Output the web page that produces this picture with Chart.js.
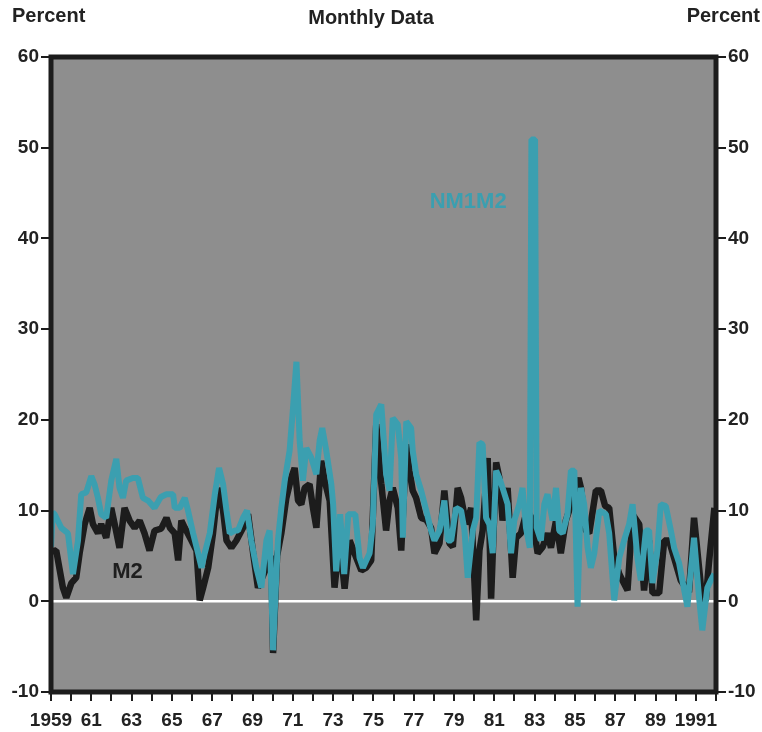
<!DOCTYPE html>
<html><head><meta charset="utf-8">
<script src="https://cdn.jsdelivr.net/npm/chart.js@4"></script>
<style>html,body{margin:0;padding:0;background:#fff}</style>
</head><body>
<canvas id="c" width="762" height="732"></canvas>
<script>
// ---- tick labels ----
const tickYears = [1959,1960,1961,1962,1963,1964,1965,1966,1967,1968,1969,1970,1971,1972,1973,1974,1975,1976,1977,1978,1979,1980,1981,1982,1983,1984,1985,1986,1987,1988,1989,1990,1991,1992];
const tickLabels = ['1959','','61','','63','','65','','67','','69','','71','','73','','75','','77','','79','','81','','83','','85','','87','','89','','1991',''];
const yTicks = [-10,0,10,20,30,40,50,60];

// ---- NM1M2 series (decimal year, percent) ----
const nmYears = [1959.00,1959.08,1959.18,1959.51,1959.84,1960.09,1960.34,1960.50,1960.75,1961.00,1961.16,1961.33,1961.49,1961.74,1961.99,1962.24,1962.40,1962.57,1962.73,1963.06,1963.31,1963.56,1963.81,1964.14,1964.45,1964.73,1965.06,1965.14,1965.39,1965.64,1965.80,1966.05,1966.30,1966.47,1966.63,1966.88,1967.13,1967.34,1967.54,1967.71,1967.87,1968.12,1968.28,1968.53,1968.73,1968.94,1969.19,1969.44,1969.69,1969.85,1970.02,1970.26,1970.43,1970.60,1970.84,1971.01,1971.18,1971.34,1971.50,1971.67,1971.92,1972.17,1972.33,1972.46,1972.66,1972.91,1973.00,1973.15,1973.35,1973.55,1973.75,1974.10,1974.31,1974.48,1974.81,1974.97,1975.14,1975.39,1975.63,1975.80,1975.96,1976.21,1976.38,1976.46,1976.63,1976.87,1976.95,1977.12,1977.37,1977.62,1977.86,1978.03,1978.28,1978.52,1978.69,1978.86,1979.10,1979.35,1979.52,1979.68,1979.93,1980.10,1980.26,1980.42,1980.59,1980.75,1980.92,1981.09,1981.25,1981.41,1981.66,1981.83,1981.99,1982.24,1982.40,1982.57,1982.76,1982.84,1983.02,1983.10,1983.31,1983.48,1983.64,1983.89,1984.06,1984.22,1984.39,1984.63,1984.80,1984.97,1985.13,1985.30,1985.46,1985.63,1985.79,1985.96,1986.21,1986.54,1986.70,1986.95,1987.20,1987.44,1987.69,1987.86,1988.10,1988.27,1988.52,1988.68,1988.85,1989.09,1989.26,1989.51,1989.76,1989.92,1990.17,1990.33,1990.58,1990.91,1991.16,1991.32,1991.57,1991.74,1991.92];
const nmValues = [6.0,9.8,9.6,8.1,7.5,3.0,6.7,11.8,12.0,13.8,12.9,11.4,9.6,9.2,13.3,15.7,12.5,11.4,13.3,13.6,13.6,11.4,11.1,10.3,11.5,11.8,11.8,10.3,10.3,11.4,10.0,7.5,5.3,3.7,5.3,7.5,11.8,14.7,12.9,10.0,7.5,7.8,7.8,9.2,10.0,6.7,3.7,1.5,6.7,7.8,-5.4,6.7,10.3,13.3,16.6,21.3,26.4,17.7,13.3,16.9,15.8,14.0,17.7,19.1,16.6,12.9,10.7,3.3,9.6,3.0,9.6,9.6,4.8,3.7,5.3,8.5,20.6,21.7,14.0,12.2,20.2,19.5,15.8,7.0,19.8,19.1,16.6,14.0,12.2,10.0,7.8,6.7,7.8,11.1,6.7,6.7,10.3,10.0,7.8,2.6,7.8,9.2,17.5,17.3,9.2,8.5,5.3,14.4,13.6,12.5,10.7,5.3,8.9,10.7,12.5,8.1,5.9,50.9,50.9,8.1,6.7,10.7,11.8,8.9,12.5,7.8,7.5,9.6,14.4,14.4,-0.6,12.5,10.7,5.9,3.7,5.3,10.0,9.6,7.5,0.1,4.8,6.7,8.5,10.7,4.8,2.3,7.8,7.8,2.0,5.6,10.7,10.5,7.8,5.9,4.2,2.3,-0.6,7.0,0.4,-3.2,1.5,2.3,3.0];

// ---- M2 series (decimal year, percent) ----
const m2Years = [1959.00,1959.26,1959.59,1959.76,1960.01,1960.25,1960.42,1960.67,1960.92,1961.08,1961.33,1961.49,1961.74,1961.99,1962.16,1962.40,1962.65,1962.90,1963.15,1963.40,1963.64,1963.89,1964.14,1964.47,1964.73,1964.90,1965.14,1965.31,1965.47,1965.64,1965.97,1966.22,1966.38,1966.55,1966.80,1967.04,1967.29,1967.54,1967.71,1967.95,1968.20,1968.53,1968.78,1969.03,1969.27,1969.69,1969.93,1970.02,1970.22,1970.43,1970.68,1970.92,1971.09,1971.26,1971.42,1971.59,1971.83,1972.00,1972.17,1972.41,1972.58,1972.83,1973.07,1973.32,1973.57,1973.82,1974.15,1974.40,1974.64,1974.89,1975.14,1975.39,1975.63,1975.80,1975.96,1976.21,1976.38,1976.63,1976.79,1976.95,1977.12,1977.37,1977.62,1977.86,1978.03,1978.28,1978.52,1978.77,1978.94,1979.18,1979.35,1979.60,1979.85,1980.10,1980.26,1980.42,1980.67,1980.84,1981.09,1981.25,1981.41,1981.66,1981.91,1982.08,1982.32,1982.57,1982.74,1982.90,1983.15,1983.40,1983.64,1983.81,1984.06,1984.30,1984.55,1984.88,1985.18,1985.30,1985.54,1985.71,1986.04,1986.29,1986.50,1986.70,1986.95,1987.20,1987.36,1987.61,1987.86,1988.19,1988.43,1988.68,1988.85,1989.18,1989.43,1989.67,1989.92,1990.25,1990.50,1990.66,1990.91,1991.16,1991.32,1991.49,1991.65,1991.92];
const m2Values = [5.5,5.6,1.5,0.4,2.0,2.6,5.3,8.5,10.3,8.5,7.5,8.5,7.0,10.3,8.5,5.9,10.3,8.9,8.1,8.9,7.5,5.6,7.8,8.0,9.2,8.1,7.5,4.5,8.9,8.1,6.7,5.6,0.1,1.5,3.7,7.5,12.5,10.0,6.7,5.9,6.7,8.1,9.6,5.3,1.5,3.7,5.0,-5.7,5.0,7.5,11.4,13.6,14.7,11.1,10.7,12.5,12.9,10.3,8.1,15.5,13.3,11.1,1.5,6.7,1.4,6.7,4.8,3.4,3.7,4.5,19.5,13.0,7.8,11.1,12.5,10.3,5.6,17.3,14.4,12.2,11.4,9.2,9.0,8.1,5.3,6.4,12.2,6.4,6.0,12.5,11.4,8.5,10.3,-2.1,5.6,7.8,15.8,0.3,15.3,13.6,8.9,12.5,2.6,7.0,7.5,9.6,9.6,9.0,5.3,6.0,7.5,5.9,8.9,5.3,8.9,11.1,13.6,12.5,7.8,7.5,12.2,12.2,10.5,10.3,4.8,3.0,2.3,1.2,9.6,8.5,1.2,6.7,0.9,0.9,6.7,6.7,4.8,2.3,1.5,1.0,9.2,3.7,0.1,0.1,4.2,10.3];

const TEAL = '#3b9fb0';
const DARK = '#1c1c1c';
const TEXT = '#222222';
const FONT = "'Liberation Sans', Arial, Helvetica, sans-serif";

const deco = {
  id: 'deco',
  beforeDatasetsDraw(chart) {
    const {ctx, chartArea: a, scales} = chart;
    ctx.save();
    ctx.fillStyle = '#8e8e8e';
    ctx.fillRect(a.left, a.top, a.right - a.left, a.bottom - a.top);
    const y0 = scales.y.getPixelForValue(0);
    ctx.strokeStyle = '#ffffff';
    ctx.lineWidth = 2.5;
    ctx.beginPath();
    ctx.moveTo(a.left, y0);
    ctx.lineTo(a.right, y0);
    ctx.stroke();
    ctx.restore();
  },
  afterDatasetsDraw(chart) {
    const {ctx, chartArea: a, scales} = chart;
    ctx.save();
    ctx.strokeStyle = DARK;
    ctx.lineWidth = 5;
    ctx.strokeRect(a.left, a.top, a.right - a.left, a.bottom - a.top);
    ctx.fillStyle = TEXT;
    ctx.font = 'bold 20px ' + FONT;
    ctx.textBaseline = 'alphabetic';
    ctx.textAlign = 'left';
    ctx.fillText('Percent', 12, 22);
    ctx.textAlign = 'center';
    ctx.fillText('Monthly Data', 371, 24);
    ctx.textAlign = 'right';
    ctx.fillText('Percent', 760, 22);
    ctx.font = 'bold 22px ' + FONT;
    ctx.textAlign = 'center';
    ctx.textBaseline = 'middle';
    ctx.fillStyle = TEAL;
    ctx.fillText('NM1M2', scales.x.getPixelForValue(1979.7), scales.y.getPixelForValue(44));
    ctx.fillStyle = '#1e1e1e';
    ctx.fillText('M2', scales.x.getPixelForValue(1962.8), scales.y.getPixelForValue(3.2));
    ctx.restore();
  }
};

const tickFont = {family: FONT, size: 19, weight: 'bold'};
const yAxis = (pos, w) => ({
  type: 'linear', position: pos, min: -10, max: 60,
  afterBuildTicks: s => { s.ticks = yTicks.map(v => ({value: v})); },
  afterFit: s => { s.width = w; },
  ticks: {callback: v => String(v), font: tickFont, color: TEXT, padding: 2},
  grid: {drawOnChartArea: false, drawTicks: true, tickLength: 10, color: DARK, lineWidth: 2},
  border: {display: false}
});

new Chart(document.getElementById('c'), {
  type: 'line',
  data: {
    datasets: [
      {label: 'NM1M2', data: nmYears.map((x, i) => ({x, y: nmValues[i]})), borderColor: TEAL, borderWidth: 6, pointRadius: 0, tension: 0, borderJoinStyle: 'bevel', order: 0},
      {label: 'M2', data: m2Years.map((x, i) => ({x, y: m2Values[i]})), borderColor: DARK, borderWidth: 6.5, pointRadius: 0, tension: 0, borderJoinStyle: 'bevel', order: 1}
    ]
  },
  options: {
    responsive: false, animation: false, devicePixelRatio: 1,
    layout: {padding: {top: 57, left: 0, right: 0, bottom: 0}},
    plugins: {legend: {display: false}, tooltip: {enabled: false}},
    scales: {
      x: {
        type: 'linear', min: 1959, max: 1992,
        afterBuildTicks: s => { s.ticks = tickYears.map(v => ({value: v})); },
        afterFit: s => { s.height = 40; },
        ticks: {autoSkip: false, maxRotation: 0, callback: (v, i) => tickLabels[i], font: tickFont, color: TEXT, padding: 8},
        grid: {drawOnChartArea: false, drawTicks: true, tickLength: 9, color: DARK, lineWidth: 2},
        border: {display: false}
      },
      y: yAxis('left', 51),
      y2: yAxis('right', 46)
    }
  },
  plugins: [deco]
});
</script>
</body></html>
